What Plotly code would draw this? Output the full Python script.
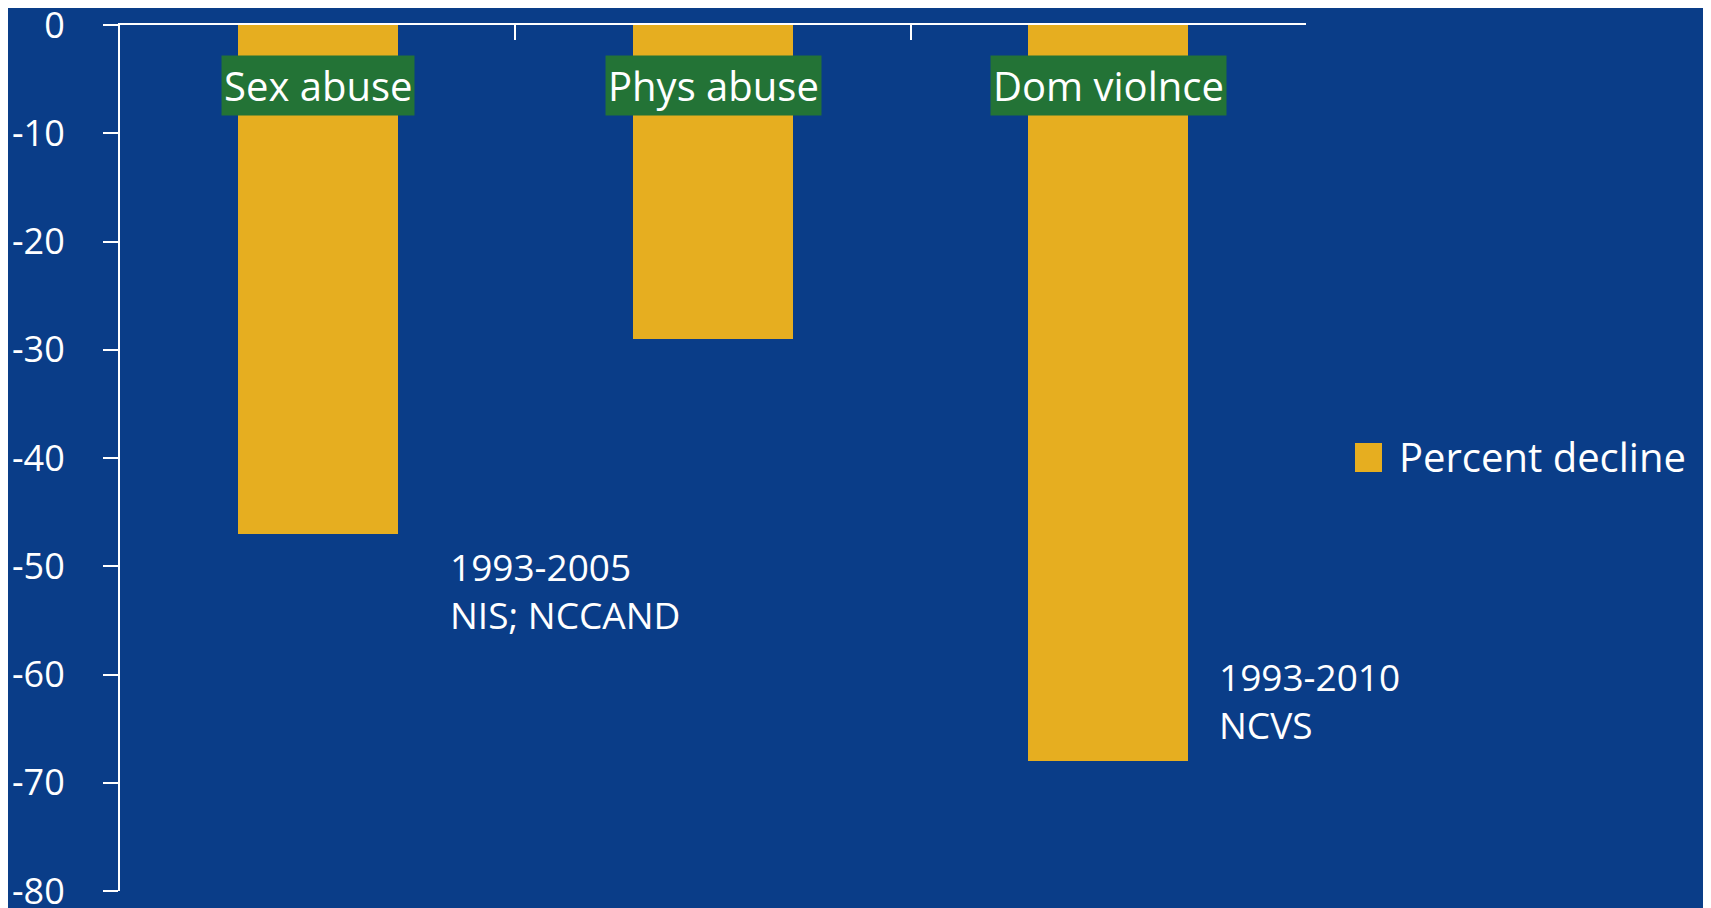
import plotly.graph_objects as go

categories = ["Sex abuse", "Phys abuse", "Dom violnce"]
percent_decline = [-47, -29, -68]
series_name = "Percent decline"
y_ticks = [0, -10, -20, -30, -40, -50, -60, -70, -80]
note_1 = "1993-2005<br>NIS; NCCAND"
note_2 = "1993-2010<br>NCVS"

BG = "#0A3D88"
BAR = "#E6AE20"
GREEN = "#237336"
FONT = "Open Sans"

fig = go.Figure()
fig.add_trace(go.Bar(
    x=categories, y=percent_decline, name=series_name,
    marker=dict(color=BAR, line=dict(width=0)),
    width=0.405, showlegend=False,
))

# category labels in green boxes
for c in categories:
    fig.add_annotation(
        x=c, y=-5.6, text=c, showarrow=False,
        font=dict(family=FONT, size=40, color="white"),
        bgcolor=GREEN, borderpad=2, xanchor="center", yanchor="middle",
    )

fig.add_annotation(x=0.33, y=-52.2, text=note_1, showarrow=False, align="left",
                   xanchor="left", yanchor="middle",
                   font=dict(family=FONT, size=37, color="white"))
fig.add_annotation(x=2.276, y=-62.4, text=note_2, showarrow=False, align="left",
                   xanchor="left", yanchor="middle",
                   font=dict(family=FONT, size=37, color="white"))

# manual legend
fig.add_shape(type="rect", xref="paper", yref="paper",
              x0=1.0413, x1=1.0641, y0=0.4838, y1=0.5173,
              fillcolor=BAR, line=dict(width=0))
fig.add_annotation(xref="paper", yref="paper", x=1.0767, y=0.5012,
                   text=series_name, showarrow=False, xanchor="left", yanchor="middle",
                   font=dict(family=FONT, size=40, color="white"))

fig.update_layout(
    width=1711, height=908,
    paper_bgcolor=BG, plot_bgcolor=BG,
    margin=dict(l=112, r=413, t=17, b=25),
    font=dict(family=FONT, color="white"),
    bargap=0,
)
fig.update_xaxes(
    type="category", side="top", showline=True, linecolor="white", linewidth=2,
    ticks="inside", ticklen=15, tickcolor="white", tickwidth=2,
    tickson="boundaries", showticklabels=False, showgrid=False, zeroline=False,
    range=[-0.5, 2.5], automargin=False,
)
fig.update_yaxes(
    range=[-80, 0], tickvals=y_ticks, ticktext=[str(v) for v in y_ticks],
    showline=True, linecolor="white", linewidth=2,
    ticks="outside", ticklen=15, tickcolor="white", tickwidth=2,
    tickfont=dict(family=FONT, size=36, color="white"),
    ticklabelstandoff=31, ticklabeloverflow="allow",
    showgrid=False, zeroline=False, automargin=False,
)

fig.write_html("out.html")
